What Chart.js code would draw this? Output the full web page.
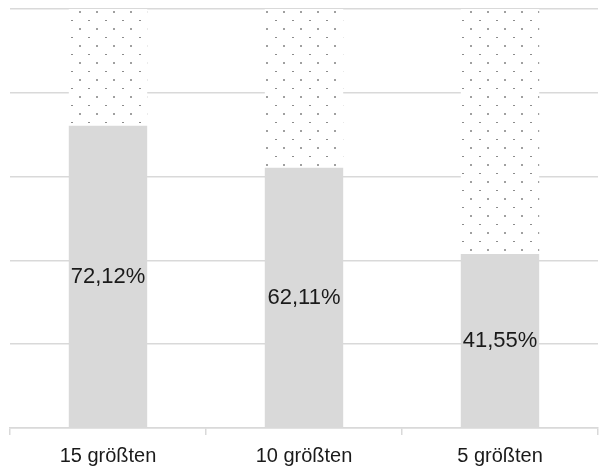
<!DOCTYPE html>
<html>
<head>
<meta charset="utf-8">
<script src="https://cdn.jsdelivr.net/npm/chart.js@4"></script>
<style>
  html, body { margin: 0; padding: 0; background: #fff; }
  #wrap { width: 600px; height: 474px; }
</style>
</head>
<body>
<div id="wrap"><canvas id="c"></canvas></div>
<script>
const categories = ['15 größten', '10 größten', '5 größten'];
const shareValues = [72.12, 62.11, 41.55];
const restValues = [27.88, 37.89, 58.45];

const FONT = '"Liberation Sans", Arial, sans-serif';

// dotted fill for the remaining share
function dotPattern() {
  const t = document.createElement('canvas');
  t.width = 17; t.height = 17;
  const g = t.getContext('2d');
  g.fillStyle = '#ffffff';
  g.fillRect(0, 0, 17, 17);
  g.fillStyle = '#8c8c8c';
  g.fillRect(3, 3, 2, 1);
  g.fillStyle = '#a0a0a0';
  g.fillRect(11, 11, 2, 2);
  return document.getElementById('c').getContext('2d').createPattern(t, 'repeat');
}

const fmt = v => v.toFixed(2).replace('.', ',') + '%';

const centerLabels = {
  id: 'centerLabels',
  afterDatasetsDraw(chart) {
    const ctx = chart.ctx;
    const meta = chart.getDatasetMeta(0);
    ctx.save();
    ctx.font = '22px ' + FONT;
    ctx.fillStyle = '#1a1a1a';
    ctx.textAlign = 'center';
    ctx.textBaseline = 'middle';
    meta.data.forEach((bar, i) => {
      const y = (bar.y + bar.base) / 2;
      ctx.fillText(fmt(shareValues[i]), bar.x, y);
    });
    ctx.restore();
  }
};

new Chart(document.getElementById('c'), {
  type: 'bar',
  data: {
    labels: categories,
    datasets: [
      { data: shareValues, backgroundColor: '#d9d9d9', borderWidth: 0 },
      { data: restValues, backgroundColor: dotPattern(), borderWidth: 0 }
    ]
  },
  options: {
    responsive: true,
    maintainAspectRatio: false,
    animation: false,
    layout: { padding: { left: 10, right: 2, top: 9, bottom: -3 } },
    datasets: { bar: { barPercentage: 0.5, categoryPercentage: 0.8 } },
    plugins: { legend: { display: false }, tooltip: { enabled: false } },
    scales: {
      x: {
        stacked: true,
        border: { color: '#d9d9d9', width: 1.5 },
        grid: { offset: true, drawOnChartArea: false, color: '#d9d9d9', lineWidth: 1.5, tickLength: 7 },
        ticks: { color: '#1a1a1a', font: { size: 20, family: FONT }, padding: 9 }
      },
      y: {
        stacked: true,
        min: 0, max: 100,
        ticks: { display: false, stepSize: 20 },
        border: { display: false },
        grid: { color: '#d9d9d9', lineWidth: 1.5, drawTicks: false }
      }
    }
  },
  plugins: [centerLabels]
});
</script>
</body>
</html>
